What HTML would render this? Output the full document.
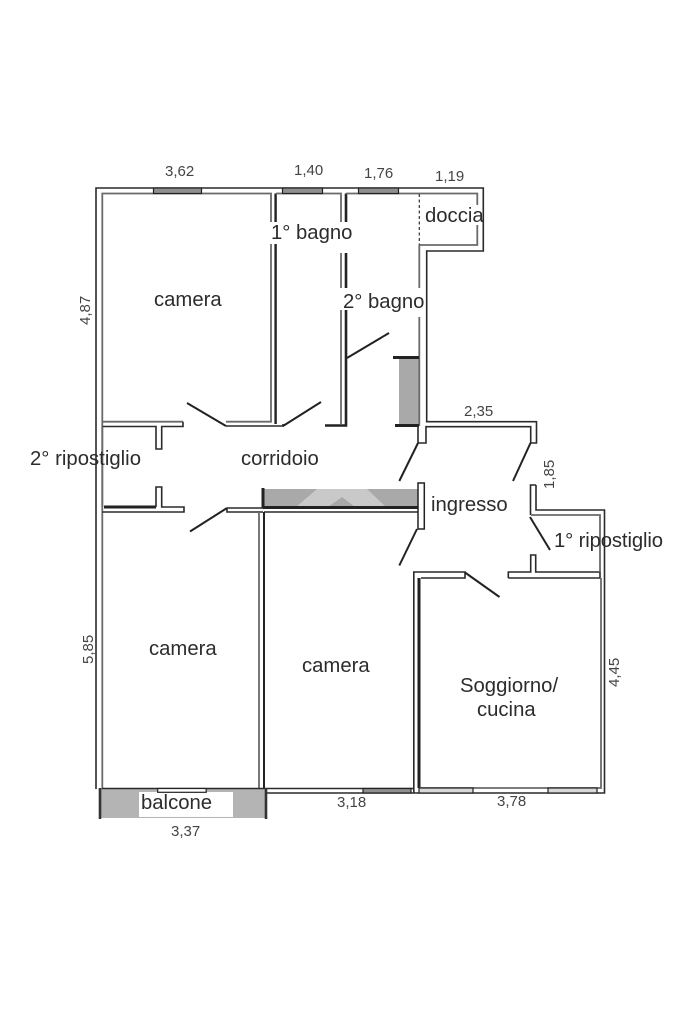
<!DOCTYPE html>
<html><head><meta charset="utf-8"><style>
html,body{margin:0;padding:0;background:#fff}
svg{display:block}
.t{font-family:"Liberation Sans",sans-serif;font-size:20.3px;fill:#2c2c2c}
.d{font-family:"Liberation Sans",sans-serif;font-size:15px;fill:#444}
.o{fill:none;stroke:#2a2a2a;stroke-width:1.6}
.i{fill:none;stroke:#6a6a6a;stroke-width:1.8}
.k{fill:none;stroke:#222;stroke-width:3}
.dr{fill:none;stroke:#222;stroke-width:2}
.w{fill:#8f8f8f;stroke:#222;stroke-width:1.2}
.p{fill:#fff;stroke:#222;stroke-width:1.5}
</style></head><body>
<svg width="683" height="1025" viewBox="0 0 683 1025" xmlns="http://www.w3.org/2000/svg">
<rect width="683" height="1025" fill="#fff"/>
<!-- grey fills -->
<rect x="399" y="358" width="20" height="67" fill="#a9a9a9"/>
<rect x="264" y="489" width="154" height="18" fill="#a9a9a9"/>
<polygon points="296,507 317,489 367,489 386,507 355,507 342,497 328,507" fill="#c9c9c9"/>
<rect x="100" y="789" width="166" height="29" fill="#b4b4b4"/>
<rect x="139" y="792" width="94" height="25" fill="#fff"/>
<!-- outer wall -->
<path class="o" d="M96,789V188H483.3V251H426.7V421.7H536.5V443H530.7V426.7H426V443H418V426"/>
<path class="o" d="M536,485V510H604.5V793H265"/>
<path class="o" d="M536,485H530.5V515"/>
<!-- inner rooms -->
<path class="i" d="M102.3,789V193.5H271V421.7H226"/>
<path class="i" d="M102.3,421.7H183"/>
<path class="k" d="M275.6,193.5V424" style="stroke-width:2.4"/>
<path class="i" d="M276,193.5H341V424"/>
<path class="k" d="M346,193.5V425.5H325" style="stroke-width:2.6"/>
<path class="i" d="M346,193.5H477.3V245H419.3"/>
<path class="i" d="M419.3,245V426"/>
<path d="M419.3,194V245" fill="none" stroke="#333" stroke-width="1.2" stroke-dasharray="3 2.5"/>
<path class="o" d="M226,426H283V424"/>
<path class="o" d="M183,421.7V426.5H161.7V449H156V426.5H102.3"/>
<path class="i" d="M102.3,426.5V507"/>
<!-- ripostiglio 2 lower -->
<path class="k" d="M104,507H156"/>
<path class="o" d="M156,507V487H161.7V507H184V512H102.3"/>
<!-- corridor wall -->
<path class="o" d="M227,508V512H263M227,508H263"/>
<path class="k" d="M263,488V508"/>
<path class="k" d="M263,507.5H418" />
<path class="o" d="M264,512H418"/>
<!-- lower rooms -->
<path class="i" d="M259,512V788"/>
<path class="k" d="M264,512V788" style="stroke-width:2"/>
<path class="o" d="M102,788.5H265"/>
<!-- ingresso post -->
<rect class="p" x="418" y="483" width="6.3" height="46"/>
<!-- camera 3 bottom -->
<path class="o" d="M265,788.5H413.5"/>
<rect class="w" x="363" y="788.5" width="48" height="4.5"/>
<!-- soggiorno -->
<path class="o" d="M413.8,793V572H465V578H421"/>
<path class="k" d="M419,578V788"/>
<path class="o" d="M508.3,578V572H530.7V555H535.7V572H600V578H508.3"/>
<path class="i" d="M601,578V788H419"/>
<path class="i" d="M600,572V515H531"/>
<rect class="w" x="419" y="788" width="54" height="5" style="fill:#d8d8d8"/>
<rect class="w" x="548" y="788" width="49" height="5" style="fill:#d8d8d8"/>
<!-- top windows -->
<rect class="w" x="153.5" y="188" width="48" height="5.5"/>
<rect class="w" x="282.5" y="188" width="40" height="5.5"/>
<rect class="w" x="358.5" y="188" width="40" height="5.5"/>
<!-- thick lintels of the grey pillar -->
<path class="k" d="M393,357.5H419"/>
<path class="k" d="M395,425.5H419"/>
<!-- balcony -->
<rect class="p" x="157.7" y="788.5" width="48.5" height="3.8" style="stroke-width:1.2"/>
<path d="M100,788V819M266,788V819" fill="none" stroke="#333" stroke-width="2.6"/>
<!-- doors -->
<path class="dr" d="M187,403L226,426"/>
<path class="dr" d="M283,426L321,402"/>
<path class="dr" d="M347,358L389,333"/>
<path class="dr" d="M190,531.5L227,508"/>
<path class="dr" d="M418,443L399.3,481"/>
<path class="dr" d="M530.5,443L513,481"/>
<path class="dr" d="M417,529L399.3,565.5"/>
<path class="dr" d="M530,517L550,550"/>
<path class="dr" d="M465,572.5L499.5,597"/>
<!-- gaps behind labels -->
<rect x="270" y="222" width="7" height="22" fill="#fff"/>
<rect x="340" y="222" width="8" height="31" fill="#fff"/>
<rect x="340" y="288" width="8" height="22" fill="#fff"/>
<rect x="417" y="288" width="5" height="29" fill="#fff"/>
<rect x="475" y="205" width="4" height="20" fill="#fff"/>
<!-- labels -->
<text class="t" x="154" y="306">camera</text>
<text class="t" x="271" y="239">1° bagno</text>
<text class="t" x="343" y="308">2° bagno</text>
<text class="t" x="425" y="222">doccia</text>
<text class="t" x="241" y="465">corridoio</text>
<text class="t" x="30" y="465" textLength="111">2° ripostiglio</text>
<text class="t" x="431" y="511">ingresso</text>
<text class="t" x="554" y="547" textLength="109">1° ripostiglio</text>
<text class="t" x="149" y="655">camera</text>
<text class="t" x="302" y="672">camera</text>
<text class="t" x="460" y="692">Soggiorno/</text>
<text class="t" x="477" y="716">cucina</text>
<text class="t" x="141" y="809">balcone</text>
<text class="d" x="165" y="176">3,62</text>
<text class="d" x="294" y="175">1,40</text>
<text class="d" x="364" y="178">1,76</text>
<text class="d" x="435" y="181">1,19</text>
<text class="d" x="464" y="416">2,35</text>
<text class="d" x="337" y="807">3,18</text>
<text class="d" x="497" y="806">3,78</text>
<text class="d" x="171" y="836">3,37</text>
<text class="d" transform="translate(554,489) rotate(-90)">1,85</text>
<text class="d" transform="translate(90,325) rotate(-90)">4,87</text>
<text class="d" transform="translate(93,664) rotate(-90)">5,85</text>
<text class="d" transform="translate(619,687) rotate(-90)">4,45</text>
</svg>
</body></html>
